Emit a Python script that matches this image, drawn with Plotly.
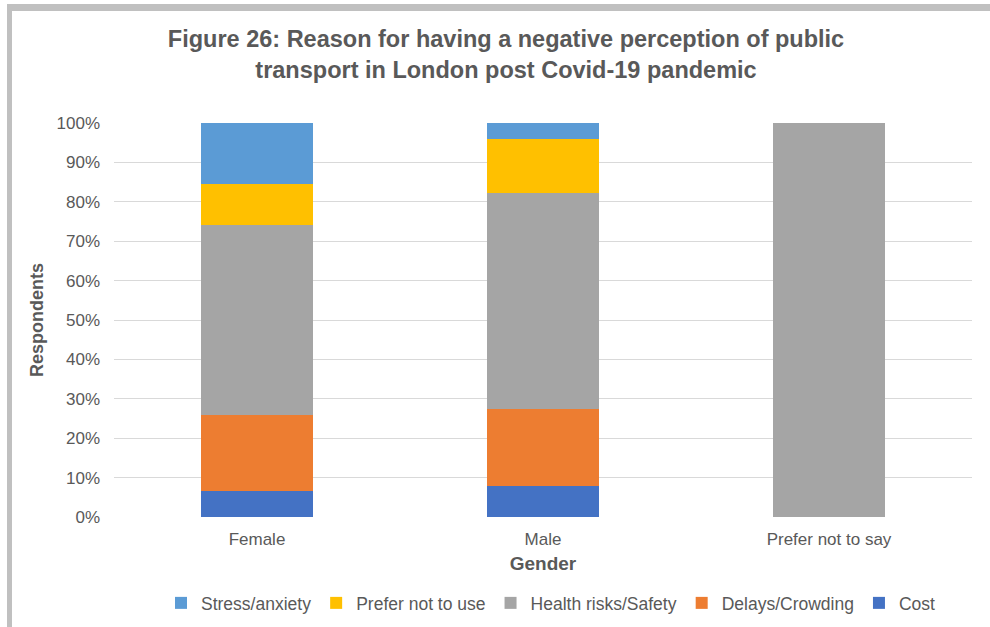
import plotly.graph_objects as go

# Share of respondents (%) giving each reason, by gender
genders = ["Female", "Male", "Prefer not to say"]
cost = [6.5, 7.8, 0.0]
delays_crowding = [19.5, 19.6, 0.0]
health_safety = [48.1, 54.9, 100.0]
prefer_not_to_use = [10.4, 13.7, 0.0]
stress_anxiety = [15.5, 4.0, 0.0]

series = [
    ("Cost", cost, "#4472C4"),
    ("Delays/Crowding", delays_crowding, "#ED7D31"),
    ("Health risks/Safety", health_safety, "#A5A5A5"),
    ("Prefer not to use", prefer_not_to_use, "#FFC000"),
    ("Stress/anxiety", stress_anxiety, "#5B9BD5"),
]

W, H = 990, 627
ML, MR, MT, MB = 114, 18, 123, 110
PW, PH = W - ML - MR, H - MT - MB


def px_x(px):
    return (px - ML) / PW


def px_y(py):
    return (H - MB - py) / PH


FONT = "Liberation Sans, Arial, sans-serif"
TXT = "#595959"

fig = go.Figure()
for name, vals, color in series:
    fig.add_trace(go.Bar(
        x=genders, y=vals, name=name,
        marker=dict(color=color, line=dict(width=0)),
    ))

# Grey frame along the left and top edges of the chart area
frame = "#c0c0c0"
shapes = [
    dict(type="rect", xref="paper", yref="paper",
         x0=px_x(7), x1=px_x(12), y0=px_y(4), y1=px_y(H + 5),
         fillcolor=frame, line=dict(width=0), layer="above"),
    dict(type="rect", xref="paper", yref="paper",
         x0=px_x(7), x1=px_x(W + 5), y0=px_y(4), y1=px_y(11),
         fillcolor=frame, line=dict(width=0), layer="above"),
]

fig.update_layout(
    width=W, height=H,
    barmode="stack",
    bargap=0.605,
    plot_bgcolor="white",
    paper_bgcolor="white",
    margin=dict(l=ML, r=MR, t=MT, b=MB, autoexpand=False),
    font=dict(family=FONT, color=TXT, size=17),
    title=dict(
        text="<b>Figure 26: Reason for having a negative perception of public<br>"
             "transport in London post Covid-19 pandemic</b>",
        x=506 / W, xanchor="center", xref="container",
        y=1 - 47 / H, yanchor="middle", yref="container",
        font=dict(family=FONT, size=23.5, color=TXT),
    ),
    xaxis=dict(
        range=[-0.5, 2.5],
        showgrid=False, zeroline=False, showline=False,
        ticks="", ticklabelstandoff=10,
        tickfont=dict(size=17, color=TXT),
        title=dict(text="<b>Gender</b>", standoff=8,
                   font=dict(size=19, color=TXT)),
        automargin=False,
    ),
    yaxis=dict(
        range=[0, 100], dtick=10, ticksuffix="%",
        showgrid=True, gridcolor="#d9d9d9", gridwidth=1,
        zeroline=False, showline=False,
        ticks="", ticklabelstandoff=13,
        tickfont=dict(size=17, color=TXT),
        title=dict(text="<b>Respondents</b>", standoff=8,
                   font=dict(size=18, color=TXT)),
        automargin=False,
    ),
    legend=dict(
        orientation="h", traceorder="reversed",
        x=px_x(551), xanchor="center",
        y=px_y(603), yanchor="middle",
        font=dict(size=17.5, color=TXT),
        itemwidth=30,
        bgcolor="rgba(0,0,0,0)",
    ),
    shapes=shapes,
)

fig.write_html("out.html")
